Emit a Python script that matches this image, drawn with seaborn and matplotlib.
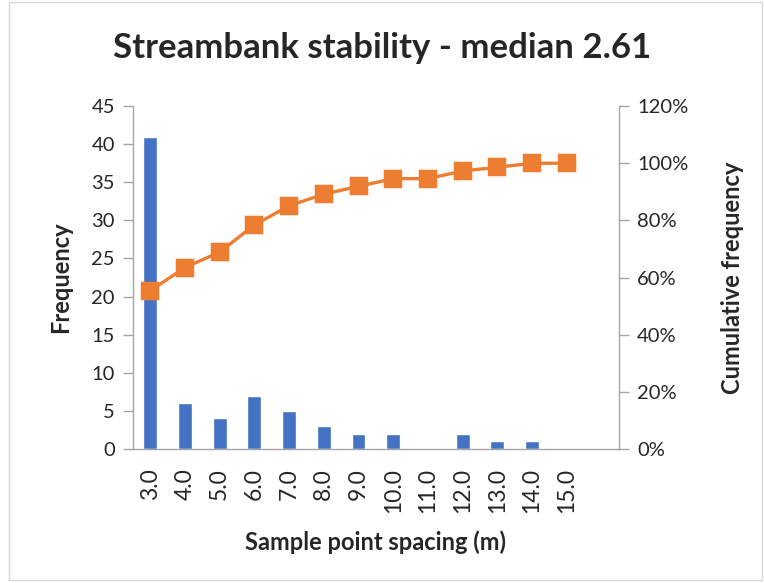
import matplotlib
matplotlib.use("Agg")
import matplotlib.pyplot as plt
import seaborn as sns
import pandas as pd
import numpy as np
from matplotlib.ticker import FixedLocator, PercentFormatter
from matplotlib.patches import Rectangle

# Histogram bins (last bin is the unlabeled overflow bin)
bins = ["3.0", "4.0", "5.0", "6.0", "7.0", "8.0", "9.0", "10.0",
        "11.0", "12.0", "13.0", "14.0", "15.0", " "]
frequency = [41, 6, 4, 7, 5, 3, 2, 2, 0, 2, 1, 1, 0, 0]
cumulative_pct = [55.4, 63.5, 68.9, 78.4, 85.1, 89.2, 91.9, 94.6,
                  94.6, 97.3, 98.6, 100.0, 100.0]

title = "Streambank stability - median 2.61"
xlabel = "Sample point spacing (m)"
ylabel_left = "Frequency"
ylabel_right = "Cumulative frequency"

sns.set_style("white")
plt.rcParams["font.family"] = ["Lato", "DejaVu Sans"]

BLUE = "#4472C4"
ORANGE = "#ED7D31"
AXIS = "#A6A6A6"

bar_df = pd.DataFrame({"bin": bins, "freq": frequency})
line_df = pd.DataFrame({"bin": bins[:len(cumulative_pct)], "cum": cumulative_pct})

fig = plt.figure(figsize=(7.64, 5.83), dpi=100)
ax = fig.add_axes([0.174, 0.230, 0.636, 0.588])

sns.barplot(data=bar_df, x="bin", y="freq", order=bins, color=BLUE,
            width=0.4, saturation=1, ax=ax)

ax2 = ax.twinx()
sns.pointplot(data=line_df, x="bin", y="cum", order=bins, color=ORANGE,
              markers="s", markersize=11, linewidth=2.4, ax=ax2)

ax.set_xlim(-0.5, len(bins) - 0.5)
ax.set_ylim(0, 45)
ax.set_yticks(np.arange(0, 46, 5))
ax2.set_ylim(0, 120)
ax2.set_yticks(np.arange(0, 121, 20))
ax2.yaxis.set_major_formatter(PercentFormatter(decimals=0))

# Category ticks: labels at centers, marks at the boundaries
ax.set_xticks(range(len(bins)))
ax.set_xticklabels(bins, rotation=90, fontsize=16.5)
ax.tick_params(axis="x", which="major", length=0, pad=14)
ax.xaxis.set_minor_locator(FixedLocator(np.arange(-0.5, len(bins), 1.0)))
ax.tick_params(axis="x", which="minor", length=7, color=AXIS, width=1)

ax.tick_params(axis="y", labelsize=14.5, length=7, color=AXIS, width=1, left=True, pad=6)
ax2.tick_params(axis="y", labelsize=14.5, length=7, color=AXIS, width=1, right=True, pad=6)

for a in (ax, ax2):
    a.spines["top"].set_visible(False)
    for side in ("left", "right", "bottom"):
        a.spines[side].set_color(AXIS)
        a.spines[side].set_linewidth(1)
ax.spines["right"].set_visible(False)
ax2.spines["left"].set_visible(False)
ax2.spines["bottom"].set_visible(False)

ax.set_xlabel(xlabel, fontsize=17, fontweight="bold", labelpad=12)
ax.set_ylabel(ylabel_left, fontsize=17, fontweight="bold", labelpad=14)
ax2.set_ylabel(ylabel_right, fontsize=17, fontweight="bold", labelpad=24)

fig.suptitle(title, fontsize=25, fontweight="bold", y=0.945)

fig.patches.append(Rectangle((0.012, 0.006), 0.985, 0.99, transform=fig.transFigure,
                             fill=False, edgecolor="#D9D9D9", linewidth=1))

fig.savefig("out.png", dpi=100)
